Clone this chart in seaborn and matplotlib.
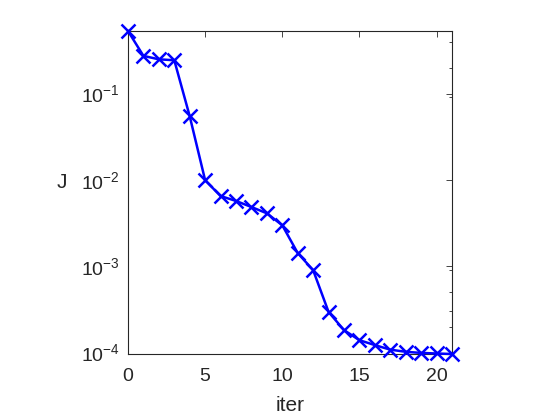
import numpy as np
import pandas as pd
import matplotlib
matplotlib.use("Agg")
import matplotlib.pyplot as plt
import matplotlib.ticker as mticker
import seaborn as sns

iters = list(range(22))
J = [0.53, 0.273, 0.249, 0.243, 0.0546, 0.0099, 0.0065, 0.0057, 0.00485,
     0.0041, 0.00298, 0.00142, 0.0009, 0.000295, 0.000182, 0.000139,
     0.000122, 0.000108, 0.000102, 0.0000990, 0.0000975, 0.0000962]
xticks = [0, 5, 10, 15, 20]
yticks = [1e-4, 1e-3, 1e-2, 1e-1]
yminor = [0.4, 0.2, 0.09, 9e-4, 5e-4, 3e-4, 2e-4]

df = pd.DataFrame({"iter": iters, "J": J})

sns.set_style("white")
plt.rcParams["font.family"] = ["Liberation Sans", "DejaVu Sans"]
plt.rcParams["mathtext.default"] = "regular"

axcol = (0.15, 0.15, 0.15)
fig = plt.figure(figsize=(5.6, 4.2), dpi=100)
ax = fig.add_axes([128 / 560, 1 - 354 / 420, 324 / 560, 323 / 420])

sns.lineplot(data=df, x="iter", y="J", ax=ax, color=(0, 0, 1), linewidth=1.8,
             marker="x", markersize=9.5, markeredgewidth=1.8,
             markeredgecolor=(0, 0, 1), clip_on=False, zorder=3)

ax.set_yscale("log")
ax.set_xlim(min(iters), max(iters))
ax.set_ylim(min(J), max(J))
ax.set_xticks(xticks)
ax.set_yticks(yticks)
ax.yaxis.set_major_formatter(mticker.LogFormatterSciNotation())
ax.yaxis.set_minor_locator(mticker.FixedLocator(yminor))
ax.yaxis.set_minor_formatter(mticker.NullFormatter())
ax.xaxis.set_minor_locator(mticker.NullLocator())

ax.tick_params(which="both", direction="in", top=True, right=True,
               colors=axcol, labelcolor=axcol, width=0.6)
ax.tick_params(which="major", length=4, labelsize=14)
ax.tick_params(axis="x", which="major", pad=10)
ax.tick_params(axis="y", which="major", pad=6)
ax.tick_params(which="minor", length=2.5)
for s in ax.spines.values():
    s.set_color(axcol)
    s.set_linewidth(0.8)

ax.set_xlabel("iter", fontsize=15, color=axcol, labelpad=8)
ax.set_ylabel("J", fontsize=15, color=axcol, rotation=0, va="center", ha="center")
ax.yaxis.set_label_coords(-0.205, 0.53)

fig.savefig("out.png", dpi=100, facecolor="white")
